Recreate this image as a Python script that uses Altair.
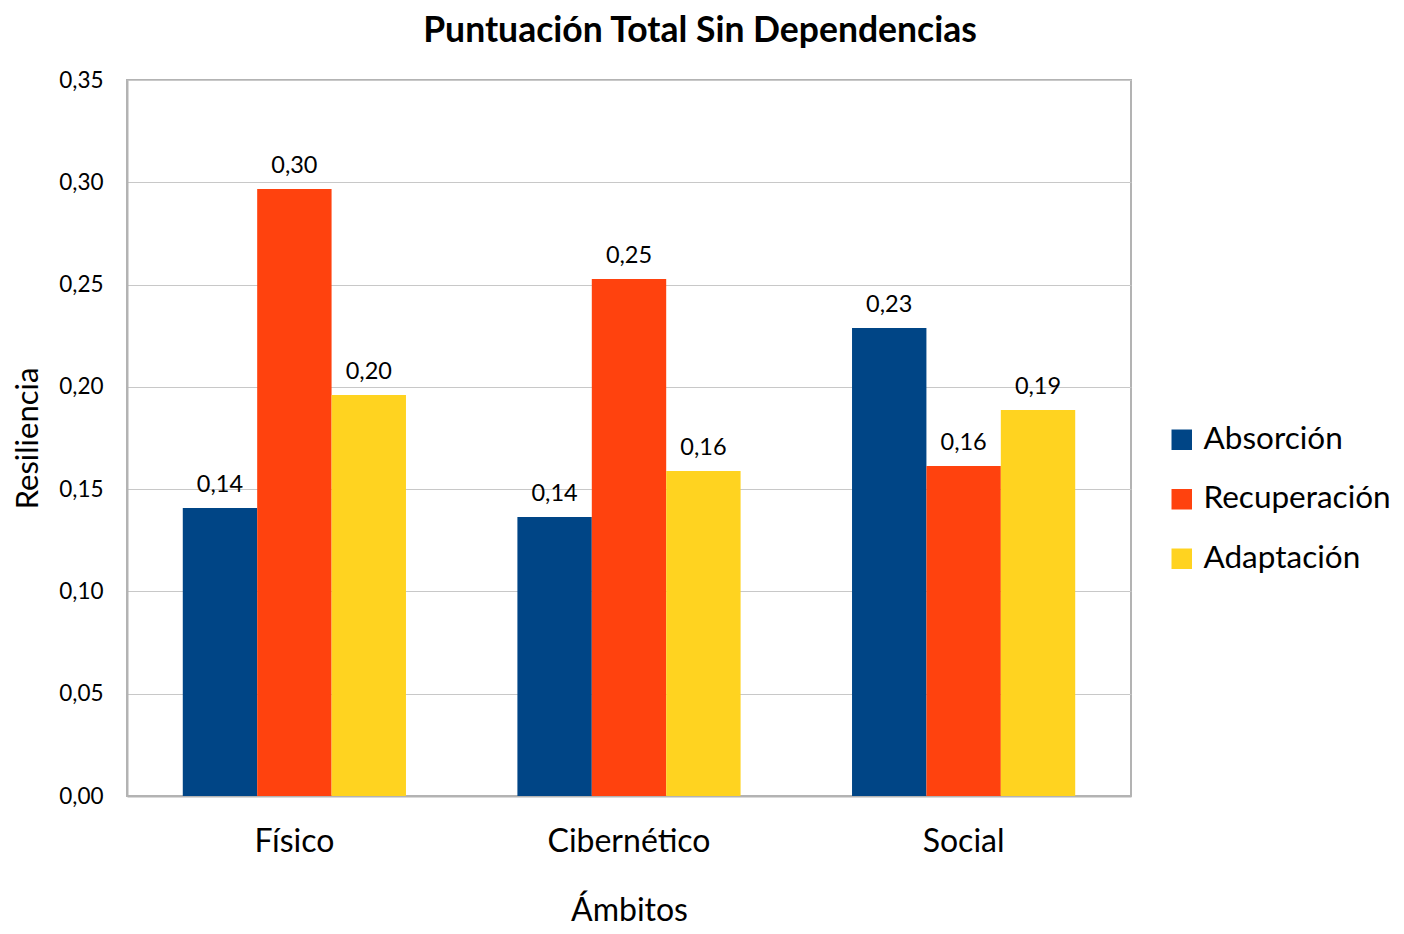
import altair as alt
import pandas as pd

categories = ["Físico", "Cibernético", "Social"]
series = ["Absorción", "Recuperación", "Adaptación"]
absorcion = [0.1408, 0.1364, 0.2288]
recuperacion = [0.2967, 0.2527, 0.1613]
adaptacion = [0.1960, 0.1589, 0.1887]
colors = ["#004586", "#ff420e", "#ffd320"]
y_ticks = [0, 0.05, 0.10, 0.15, 0.20, 0.25, 0.30, 0.35]

rows = []
for s, vals in zip(series, [absorcion, recuperacion, adaptacion]):
    for c, v in zip(categories, vals):
        rows.append({"Ámbito": c, "Serie": s, "valor": v})
df = pd.DataFrame(rows)

FONT = "Lato"

base = alt.Chart(df).encode(
    x=alt.X("Ámbito:N", sort=categories,
            scale=alt.Scale(paddingInner=0.333, paddingOuter=0.1667),
            axis=alt.Axis(title="Ámbitos", labelAngle=0, labelFontSize=32,
                          titleFontSize=32, titleFontWeight="normal",
                          labelPadding=30, titlePadding=38, ticks=False,
                          domain=True, domainColor="#b3b3b3", domainWidth=2,
                          labelColor="#000", titleColor="#000")),
    xOffset=alt.XOffset("Serie:N", sort=series),
)

bars = base.mark_bar().encode(
    y=alt.Y("valor:Q", scale=alt.Scale(domain=[0, 0.35], nice=False),
            axis=alt.Axis(title="Resiliencia", values=y_ticks,
                          labelExpr="replace(format(datum.value, '.2f'), '.', ',')",
                          labelFontSize=22.5, titleFontSize=31, titleFontWeight="normal",
                          labelPadding=24, titlePadding=14, ticks=False,
                          grid=True, gridColor="#c8c8c8", gridWidth=1.2,
                          domainColor="#b3b3b3", domainWidth=2,
                          labelColor="#000", titleColor="#000")),
    color=alt.Color("Serie:N", sort=series,
                    scale=alt.Scale(domain=series, range=colors),
                    legend=alt.Legend(title=None, orient="none", legendX=1039, legendY=344,
                                      symbolType="square", symbolSize=420,
                                      symbolStrokeWidth=0, labelFontSize=31.5,
                                      rowPadding=26.5, labelOffset=6, labelLimit=400,
                                      labelColor="#000")),
)

labels = base.mark_text(fontSize=23.5, baseline="alphabetic", dy=-16, color="#000").encode(
    y=alt.Y("valor:Q"),
    text=alt.Text("label:N"),
).transform_calculate(
    label="replace(format(datum.valor, '.2f'), '.', ',')"
)

chart = (bars + labels).properties(
    width=1004, height=716,
    autosize=alt.AutoSizeParams(type="none"),
    padding={"left": 119, "top": 72, "right": 265, "bottom": 130},
    title=alt.TitleParams("Puntuación Total Sin Dependencias", fontSize=35.5,
                          fontWeight="bold", anchor="middle", dx=71, offset=20,
                          color="#000"),
).configure(font=FONT).configure_view(stroke="#b3b3b3", strokeWidth=2)

chart.save("out.html", embed_options={"renderer": "svg", "actions": False})
